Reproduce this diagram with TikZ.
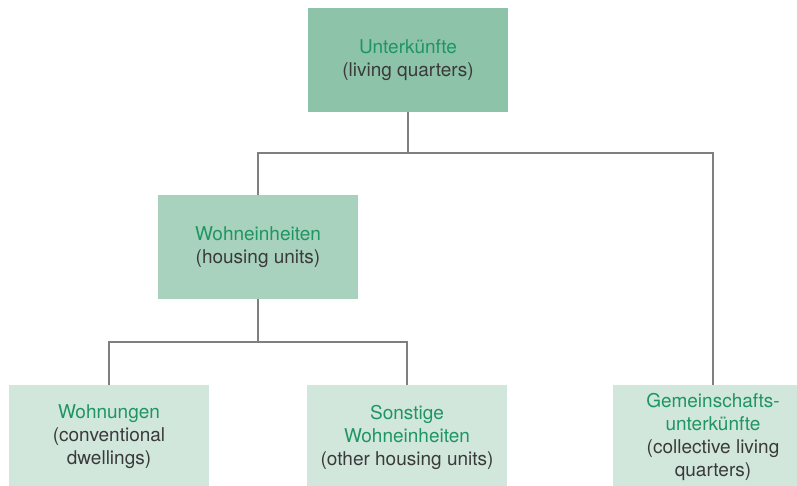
\documentclass[tikz,border=0pt]{standalone}
\usepackage{fontspec}
\setmainfont{TeX Gyre Heros}
\definecolor{boxA}{HTML}{8DC4A9}
\definecolor{boxB}{HTML}{A8D2BD}
\definecolor{boxC}{HTML}{D1E7DC}
\definecolor{greentxt}{HTML}{1E9562}
\definecolor{darktxt}{HTML}{3A3A3A}
\definecolor{linegray}{HTML}{7F7F7F}
\tikzset{
  box/.style={rectangle, minimum width=200pt, minimum height=104pt, inner sep=0pt,
    align=center, text=darktxt, font=\fontsize{19}{23}\selectfont},
  conn/.style={draw=linegray, line width=1.3pt}
}
\newcommand{\gr}[1]{\textcolor{greentxt}{#1}}
\begin{document}
\begin{tikzpicture}[x=1pt,y=-1pt]
\path[use as bounding box] (0,0) rectangle (797,485);
\clip (0,0) rectangle (797,485);
\node[box, fill=boxA] (top) at (408,60) {\gr{Unterkünfte}\\(living quarters)};
\node[box, fill=boxB] (mid) at (258,247) {\gr{Wohneinheiten}\\(housing units)};
\node[box, fill=boxC] (won) at (109,437) {\gr{Wohnungen}\\(conventional\\dwellings)};
\node[box, fill=boxC] (son) at (407,437) {\gr{Sonstige}\\\gr{Wohneinheiten}\\(other housing units)};
\node[box, fill=boxC] (gem) at (713,437) {\gr{Gemeinschafts-}\\\gr{unterkünfte}\\(collective living\\quarters)};
\coordinate (j1) at (408,153);
\coordinate (j2) at (258,342);
\draw[conn] (top.south) -- (j1);
\draw[conn] (j1) -| (mid.north);
\draw[conn] (j1) -| (gem.north);
\draw[conn] (mid.south) -- (j2);
\draw[conn] (j2) -| (won.north);
\draw[conn] (j2) -| (son.north);
\end{tikzpicture}
\end{document}
